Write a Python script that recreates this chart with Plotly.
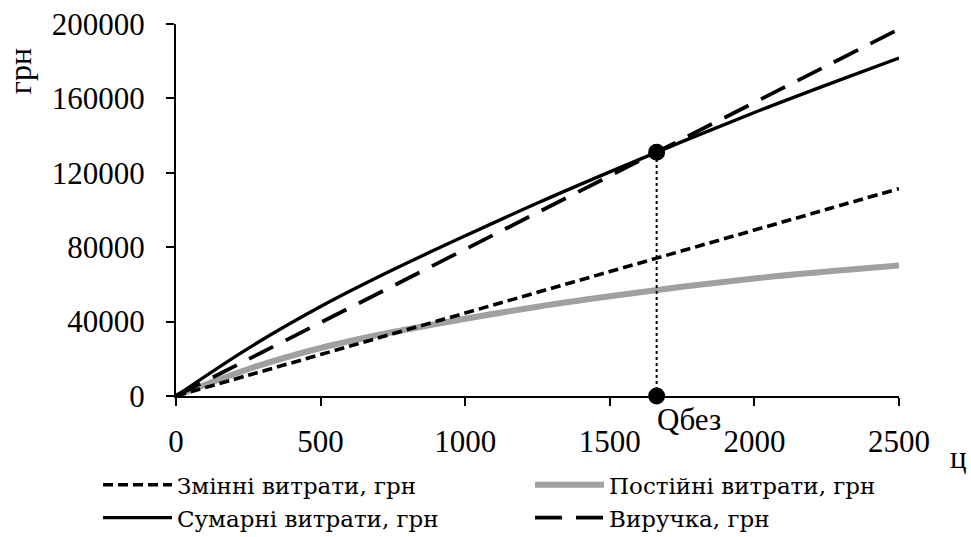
import plotly.graph_objects as go

# Data
quantity = [0, 250, 500, 750, 1000, 1250, 1500, 1750, 2000, 2250, 2500]
variable_costs = [0, 11150, 22300, 33450, 44600, 55750, 66900, 78050, 89200, 100350, 111500]
fixed_costs = [0, 14500, 25800, 34400, 41500, 48000, 53600, 58700, 63200, 66900, 70200]
total_costs = [0, 25650, 48100, 67850, 86100, 103750, 120500, 136750, 152400, 167250, 181700]
revenue = [0, 19720, 39450, 59170, 78900, 98620, 118350, 138070, 157800, 177520, 197250]

breakeven_q = 1662
breakeven_value = 131000

x_ticks = [0, 500, 1000, 1500, 2000, 2500]
y_ticks = [0, 40000, 80000, 120000, 160000, 200000]

names = ["Змінні витрати, грн", "Постійні витрати, грн", "Сумарні витрати, грн", "Виручка, грн"]

FONT = "'Liberation Serif', 'Times New Roman', serif"
LEGEND_FONT = "'DejaVu Serif', 'Liberation Serif', serif"

fig = go.Figure()

fig.add_trace(go.Scatter(
    x=quantity, y=fixed_costs, name=names[1], mode="lines", line_shape="spline",
    line=dict(color="#a0a0a0", width=6), legendrank=2))
fig.add_trace(go.Scatter(
    x=quantity, y=variable_costs, name=names[0], mode="lines", line_shape="spline",
    line=dict(color="black", width=3.6, dash="10px,5px"), legendrank=1))
fig.add_trace(go.Scatter(
    x=quantity, y=total_costs, name=names[2], mode="lines", line_shape="spline",
    line=dict(color="black", width=3.3), legendrank=3))
fig.add_trace(go.Scatter(
    x=quantity, y=revenue, name=names[3], mode="lines", line_shape="spline",
    line=dict(color="black", width=3.8, dash="27px,14px"), legendrank=4))

fig.add_trace(go.Scatter(
    x=[breakeven_q, breakeven_q], y=[0, breakeven_value], mode="lines+markers",
    line=dict(color="black", width=2, dash="3px,3px"),
    marker=dict(color="black", size=17), showlegend=False, cliponaxis=False))

fig.update_layout(
    width=971, height=537,
    margin=dict(l=176, r=72, t=24, b=141, autoexpand=False),
    paper_bgcolor="white", plot_bgcolor="white",
    font=dict(family=FONT, size=31, color="black"),
    showlegend=True,
    legend=dict(
        orientation="h", xref="paper", yref="paper",
        x=-0.1079, y=-0.181, xanchor="left", yanchor="top",
        font=dict(family=LEGEND_FONT, size=23, color="black"),
        itemwidth=69, entrywidth=348, entrywidthmode="pixels",
        tracegroupgap=0, bgcolor="rgba(0,0,0,0)", borderwidth=0,
        traceorder="normal",
    ),
    xaxis=dict(
        range=[0, 2500], tickvals=x_ticks, ticktext=[str(v) for v in x_ticks],
        showline=True, linewidth=2, linecolor="black", showgrid=False, zeroline=False,
        ticks="outside", ticklen=8, tickwidth=2, tickcolor="black",
        tickfont=dict(family=FONT, size=31), ticklabelstandoff=9,
    ),
    yaxis=dict(
        range=[0, 200000], tickvals=y_ticks, ticktext=[str(v) for v in y_ticks],
        showline=True, linewidth=2, linecolor="black", showgrid=False, zeroline=False,
        ticks="outside", ticklen=8, tickwidth=2, tickcolor="black",
        tickfont=dict(family=FONT, size=31), ticklabelstandoff=15,
    ),
    annotations=[
        dict(text="Qбез", x=breakeven_q, y=0, xref="x", yref="y", xanchor="left",
             yanchor="top", yshift=-4, xshift=-2, showarrow=False,
             font=dict(family=FONT, size=31)),
        dict(text="ц", x=1.0968, y=-0.166, xref="paper", yref="paper", xanchor="right",
             yanchor="middle", showarrow=False, font=dict(family=FONT, size=31)),
        dict(text="грн", x=-0.2158, y=0.873, xref="paper", yref="paper", xanchor="center",
             yanchor="middle", textangle=-90, showarrow=False, font=dict(family=FONT, size=32)),
    ],
)

fig.write_html(
    "out.html",
    config={"displayModeBar": False},
    post_script="document.body.style.margin='0';document.body.style.overflow='hidden';",
)
